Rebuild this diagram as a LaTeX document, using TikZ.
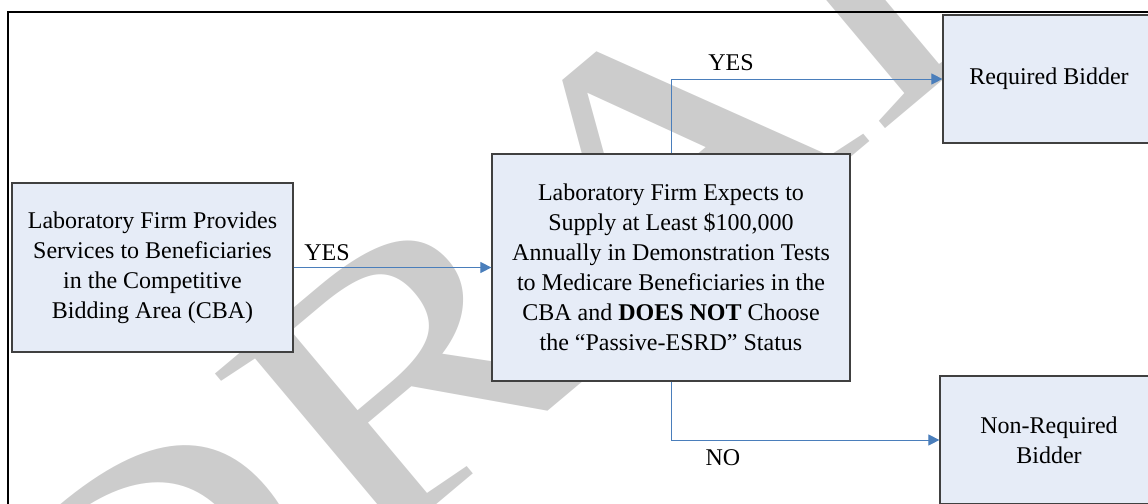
\documentclass[tikz,border=0pt]{standalone}
\usepackage{fontspec}
\setmainfont{Liberation Serif}
\usepackage{tikz}
\usetikzlibrary{positioning,arrows.meta,calc}
\definecolor{boxfill}{RGB}{230,236,247}
\definecolor{boxline}{RGB}{64,64,64}
\definecolor{flowblue}{RGB}{74,126,187}
\definecolor{wmgray}{RGB}{204,204,204}
\tikzset{
  box/.style={draw=boxline, fill=boxfill, line width=0.6pt, align=center,
              inner sep=2pt, font=\fontsize{12}{15}\selectfont},
  flow/.style={-{Triangle[length=5.5pt,width=5.5pt]}, line width=0.5pt, flowblue},
  lbl/.style={font=\fontsize{12}{15}\selectfont, inner sep=1pt},
  wmark/.style={text=wmgray, rotate=40, xscale=1.3, inner sep=0pt,
                font=\fontsize{185}{185}\selectfont}
}

\begin{document}
\begin{tikzpicture}[x=0.5pt, y=-0.5pt]
\useasboundingbox (0,0) rectangle (1148,504);
\clip (0,0) rectangle (1148,504);
% watermark behind everything
\node[wmark] (wm) at (620,192) {DRAFT};
% outer frame
\draw[line width=1pt] (8,12) rectangle (1170,530);
% boxes
\node[box, minimum width=140.5pt, minimum height=84.5pt] (prov) at (152.5,267.5)
  {Laboratory Firm Provides\\ Services to Beneficiaries\\ in the Competitive\\ Bidding Area (CBA)};
\node[box, minimum width=179pt, minimum height=113.5pt] (exp) at (671,267.5)
  {Laboratory Firm Expects to\\ Supply at Least \$100,000\\ Annually in Demonstration Tests\\
   to Medicare Beneficiaries in the\\ CBA and \textbf{DOES NOT} Choose\\ the “Passive-ESRD” Status};
\node[box, minimum width=106pt, minimum height=64pt] (req) at (1049,79) {Required Bidder};
\node[box, minimum width=109pt, minimum height=64pt] (nonreq) at (1049,440) {Non-Required\\ Bidder};
% connectors
\draw[flow] (prov.east) -- (exp.west);
\draw[flow] (exp.north) |- (req.west);
\draw[flow] (exp.south) |- (nonreq.west);
% labels
\node[lbl] (yes1) at (327,253) {YES};
\node[lbl] (yes2) at (731,63) {YES};
\node[lbl] (no) at (723,458) {NO};
\end{tikzpicture}
\end{document}
